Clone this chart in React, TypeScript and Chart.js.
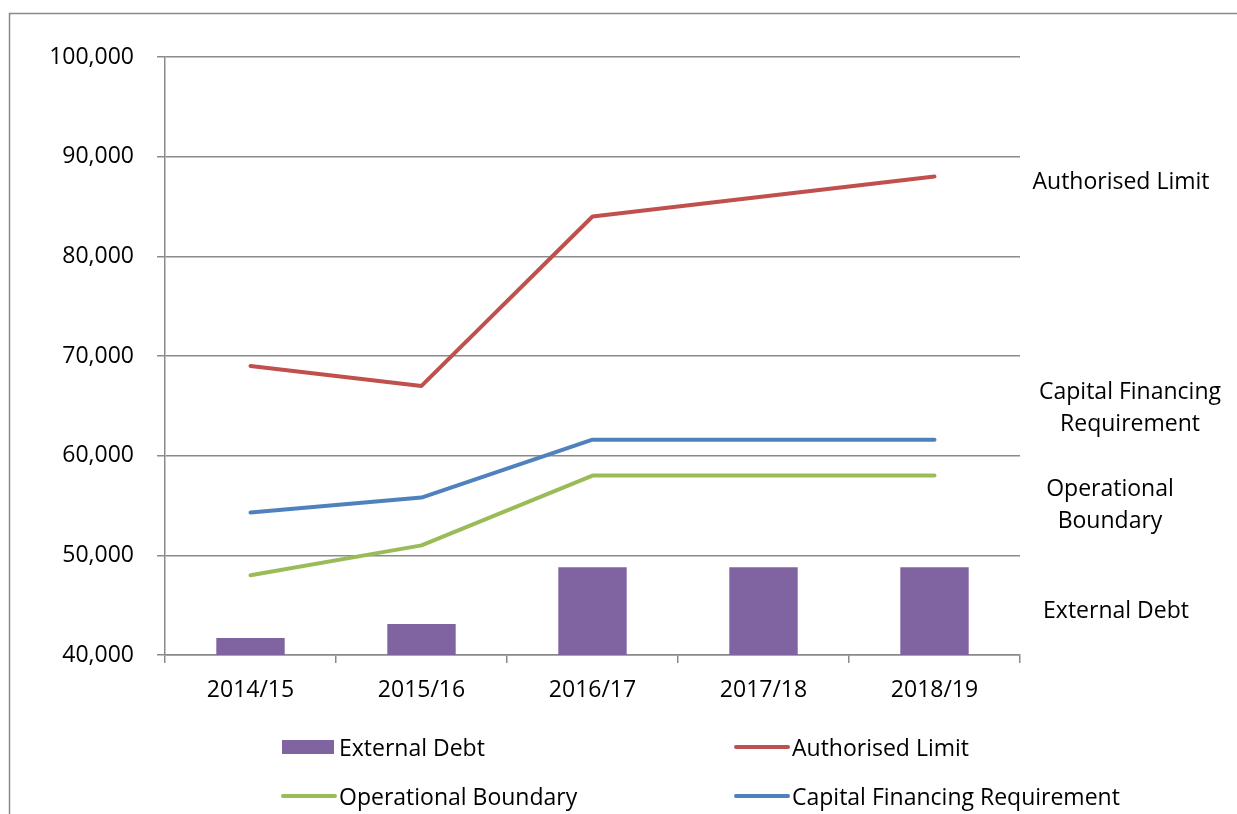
import React, { useEffect, useRef } from "react";
import { Chart, registerables } from "chart.js";

Chart.register(...registerables);

const categories = ["2014/15", "2015/16", "2016/17", "2017/18", "2018/19"];
const externalDebt = [41700, 43100, 48800, 48800, 48800];
const authorisedLimit = [69000, 67000, 84000, 86000, 88000];
const operationalBoundary = [48000, 51000, 58000, 58000, 58000];
const capitalFinancing = [54300, 55800, 61600, 61600, 61600];
const yMin = 40000;
const yMax = 100000;
const yStep = 10000;

const FONT = "'Open Sans', sans-serif";
const FONT_SIZE = 23;
const GRID = "#8a8a8a";

const COLORS = {
  ed: "#8064A2",
  al: "#C0504D",
  ob: "#9BBB59",
  cfr: "#4F81BD",
};

const sideLabels = [
  { lines: ["Authorised Limit"], x: 1121, y: 180 },
  { lines: ["Capital Financing", "Requirement"], x: 1130, y: 390 },
  { lines: ["Operational", "Boundary"], x: 1110, y: 487 },
  { lines: ["External Debt"], x: 1116, y: 609 },
];

const legendItems = [
  { label: "External Debt", color: COLORS.ed, type: "box", x: 282, y: 747 },
  { label: "Authorised Limit", color: COLORS.al, type: "line", x: 735, y: 747 },
  { label: "Operational Boundary", color: COLORS.ob, type: "line", x: 282, y: 796 },
  { label: "Capital Financing Requirement", color: COLORS.cfr, type: "line", x: 735, y: 796 },
];

const TEXT_NUDGE = 2;

const decorPlugin = {
  id: "decor",
  beforeDraw(chart: any) {
    const ctx = chart.ctx;
    ctx.save();
    ctx.strokeStyle = GRID;
    ctx.lineWidth = 1.5;
    ctx.beginPath();
    ctx.moveTo(9.5, chart.height);
    ctx.lineTo(9.5, 13.5);
    ctx.lineTo(chart.width, 13.5);
    ctx.stroke();
    ctx.restore();
  },
  afterDraw(chart: any) {
    const ctx = chart.ctx;
    ctx.save();
    ctx.fillStyle = "#000";
    ctx.font = `${FONT_SIZE}px ${FONT}`;
    ctx.textBaseline = "middle";
    ctx.textAlign = "center";
    sideLabels.forEach((s) => {
      s.lines.forEach((ln, i) => ctx.fillText(ln, s.x, s.y + i * 32 + TEXT_NUDGE));
    });
    ctx.textAlign = "left";
    legendItems.forEach((it) => {
      if (it.type === "box") {
        ctx.fillStyle = it.color;
        ctx.fillRect(it.x, it.y - 7, 52, 14);
      } else {
        ctx.strokeStyle = it.color;
        ctx.lineWidth = 4;
        ctx.lineCap = "round";
        ctx.beginPath();
        ctx.moveTo(it.x + 1, it.y);
        ctx.lineTo(it.x + 53, it.y);
        ctx.stroke();
      }
      ctx.fillStyle = "#000";
      ctx.fillText(it.label, it.x + 57, it.y + TEXT_NUDGE);
    });
    ctx.restore();
  },
};

export default function App() {
  const ref = useRef<HTMLCanvasElement | null>(null);
  useEffect(() => {
    if (!ref.current) return;
    const lineDs = (label: string, data: number[], color: string) => ({
      type: "line" as const,
      label,
      data,
      borderColor: color,
      backgroundColor: color,
      borderWidth: 4,
      pointRadius: 0,
      borderCapStyle: "round" as const,
      borderJoinStyle: "round" as const,
      tension: 0,
      order: 0,
    });
    const chart = new Chart(ref.current, {
      type: "bar",
      data: {
        labels: categories,
        datasets: [
          {
            type: "bar",
            label: "External Debt",
            data: externalDebt,
            backgroundColor: COLORS.ed,
            barPercentage: 0.4,
            categoryPercentage: 1,
            order: 1,
          } as any,
          lineDs("Authorised Limit", authorisedLimit, COLORS.al),
          lineDs("Operational Boundary", operationalBoundary, COLORS.ob),
          lineDs("Capital Financing Requirement", capitalFinancing, COLORS.cfr),
        ],
      },
      options: {
        responsive: false,
        animation: false,
        layout: { padding: { top: 57, right: 217, left: 0, bottom: 0 } },
        plugins: { legend: { display: false }, tooltip: { enabled: false } },
        scales: {
          x: {
            offset: true,
            grid: {
              offset: true,
              drawOnChartArea: false,
              drawTicks: true,
              tickLength: 8,
              color: GRID,
              lineWidth: 1.5,
            },
            border: { display: true, color: GRID, width: 1.5 },
            ticks: {
              color: "#000",
              font: { family: FONT, size: FONT_SIZE },
              padding: 14,
              maxRotation: 0,
            },
            afterFit(scale: any) {
              scale.height = 159;
            },
          },
          y: {
            min: yMin,
            max: yMax,
            grid: { color: GRID, lineWidth: 1.5, tickLength: 8, drawTicks: true },
            border: { display: true, color: GRID, width: 1.5 },
            ticks: {
              stepSize: yStep,
              color: "#000",
              font: { family: FONT, size: FONT_SIZE },
              padding: 23,
              callback: (v: any) => Number(v).toLocaleString("en-US"),
            },
            afterFit(scale: any) {
              scale.width = 165;
            },
          },
        },
      },
      plugins: [decorPlugin],
    });
    return () => chart.destroy();
  }, []);
  return (
    <div style={{ position: "absolute", left: 0, top: 0, width: 1237, height: 814, background: "#fff" }}>
      <canvas ref={ref} width={1237} height={814} style={{ display: "block" }} />
    </div>
  );
}
